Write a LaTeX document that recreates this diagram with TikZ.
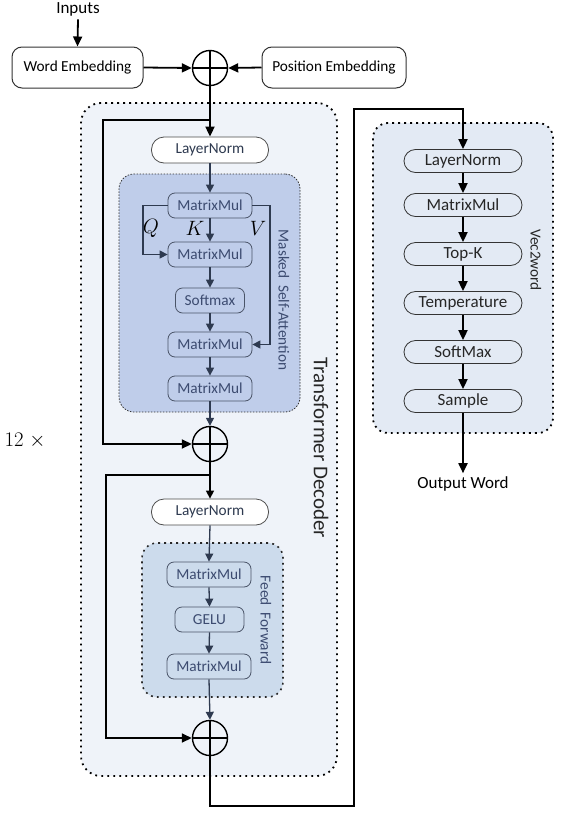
\documentclass[tikz,border=0pt]{standalone}
\usepackage{fontspec}
\setmainfont{Carlito}
\usetikzlibrary{arrows.meta}
\definecolor{decbg}{HTML}{EFF3F9}
\definecolor{attbg}{HTML}{BFCDEA}
\definecolor{ffbg}{HTML}{CCDBEC}
\definecolor{vecbg}{HTML}{E3EAF4}
\definecolor{slate}{HTML}{2E3A50}
\definecolor{boxline}{HTML}{4A5468}
\definecolor{intext}{HTML}{3C4B70}
\tikzset{
  fs/.style={font=\fontsize{15.3}{18}\selectfont},
  fl/.style={font=\fontsize{17}{20}\selectfont},
  fm/.style={font=\fontsize{21}{24}\selectfont},
  bigarr/.style={line width=1.8pt,-{Triangle[length=10pt,width=9pt]}},
  smallarr/.style={line width=1.3pt,draw=slate,-{Triangle[length=8pt,width=8pt]}},
  embbox/.style={draw=black!80,line width=1pt,rounded corners=10pt,minimum width=131pt,minimum height=41pt,inner sep=0pt,fs},
  lnbox/.style={draw=black!70,line width=0.8pt,fill=white,rounded corners=12.5pt,minimum width=117pt,minimum height=26pt,inner sep=0pt,fs,text=slate},
  inbox/.style={draw=boxline,line width=0.8pt,rounded corners=7pt,minimum height=25pt,inner sep=0pt,fs,text=intext},
  vbox/.style={draw=black!80,line width=0.8pt,rounded corners=11.5pt,minimum width=118pt,minimum height=23pt,inner sep=0pt,fl,text=black!85},
  plus/.style={circle,draw=black,line width=1.4pt,minimum size=35pt,inner sep=0pt},
  dotbig/.style={draw=black,line width=1.8pt,dash pattern=on 1.8pt off 4.2pt},
  dotsmall/.style={draw=black!80,line width=0.8pt,dash pattern=on 1.5pt off 1.5pt},
}
\begin{document}
\begin{tikzpicture}[x=1pt,y=-1pt]
\useasboundingbox (0,0) rectangle (562,814);
% containers
\node[dotbig,fill=decbg,rounded corners=20pt,minimum width=256pt,minimum height=673pt,inner sep=0pt] (dec) at (209,439.5) {};
\node[dotsmall,fill=attbg,rounded corners=15pt,minimum width=181pt,minimum height=238pt,inner sep=0pt] (att) at (209.5,293) {};
\node[dotbig,draw=black!85,line width=1.6pt,fill=ffbg,rounded corners=15pt,minimum width=141pt,minimum height=154pt,inner sep=0pt] (ff) at (212.5,620) {};
\node[dotbig,fill=vecbg,rounded corners=15pt,minimum width=180pt,minimum height=310pt,inner sep=0pt] (vec) at (463,278) {};
% labels
\node[fl] (inp) at (78,9) {Inputs};
\node[embbox] (we) at (77.5,67.5) {Word Embedding};
\node[embbox,minimum width=144pt] (pe) at (334,67.5) {Position Embedding};
\node[plus] (p1) at (210,68) {};
\draw[line width=1.4pt] (p1.north) -- (p1.south) (p1.west) -- (p1.east);
\node[lnbox] (ln1) at (210,150) {LayerNorm};
\node[inbox,minimum width=84pt] (mm1) at (210,205.5) {MatrixMul};
\node[inbox,minimum width=84pt] (mm2) at (210,254.5) {MatrixMul};
\node[inbox,minimum width=69pt] (sm) at (210,300.5) {Softmax};
\node[inbox,minimum width=84pt] (mm3) at (210,344.5) {MatrixMul};
\node[inbox,minimum width=84pt] (mm4) at (210,388.5) {MatrixMul};
\node[fm] (ql) at (151,228) {$Q$};
\node[fm] (kl) at (195,228) {$K$};
\node[fm] (vl) at (258,228) {$V$};
\node[fs,text=intext,rotate=-90] (attl) at (284,300) {Masked\ \ Self-Attention};
\node[plus] (p2) at (210,444) {};
\draw[line width=1.4pt] (p2.north) -- (p2.south) (p2.west) -- (p2.east);
\node[lnbox] (ln2) at (210,512) {LayerNorm};
\node[inbox,minimum width=84pt] (mm5) at (209,574.5) {MatrixMul};
\node[inbox,minimum width=69pt] (gelu) at (209.5,619.5) {GELU};
\node[inbox,minimum width=84pt] (mm6) at (209,666.5) {MatrixMul};
\node[fs,text=intext,rotate=-90] (ffl) at (266,620) {Feed\ \ Forward};
\node[plus] (p3) at (210,738) {};
\draw[line width=1.4pt] (p3.north) -- (p3.south) (p3.west) -- (p3.east);
\node[font=\fontsize{21}{24}\selectfont,text=black!85,rotate=-90] (decl) at (321,448) {Transformer Decoder};
\node[font=\fontsize{22}{26}\selectfont] (rep) at (25,441) {$12\;\times$};
% vec2word
\node[vbox] (vln) at (463,161) {LayerNorm};
\node[vbox] (vmm) at (463,205) {MatrixMul};
\node[vbox] (topk) at (463,254) {Top-K};
\node[vbox] (temp) at (463,303) {Temperature};
\node[vbox] (vsm) at (463,352) {SoftMax};
\node[vbox] (samp) at (463,401) {Sample};
\node[fs,text=black!85,rotate=-90] (vecl) at (536,260) {Vec2word};
\node[fl] (out) at (463,484) {Output Word};
% connectors
\draw[bigarr] (inp.south) -- (we.north);
\draw[bigarr] (we.east) -- (p1.west);
\draw[bigarr] (pe.west) -- (p1.east);
\coordinate (r1a) at (210,120);
\coordinate (r1b) at (103,120);
\draw[bigarr] (p1.south) -- (ln1.north);
\draw[bigarr] (r1a) -- (r1b) |- (p2.west);
\draw[smallarr] (ln1.south) -- (mm1.north);
\draw[smallarr] (mm1.south) -- (mm2.north);
\coordinate (qx) at (143,205.5);
\coordinate (vx) at (270,205.5);
\draw[smallarr] (mm1.west) -- (qx) |- (mm2.west);
\draw[smallarr] (mm1.east) -- (vx) |- (mm3.east);
\draw[smallarr] (mm2.south) -- (sm.north);
\draw[smallarr] (sm.south) -- (mm3.north);
\draw[smallarr] (mm3.south) -- (mm4.north);
\draw[smallarr] (mm4.south) -- (p2.north);
\coordinate (r2a) at (210,475);
\coordinate (r2b) at (106,475);
\draw[smallarr,draw=black,line width=1.5pt] (p2.south) -- (ln2.north);
\draw[bigarr,line width=1.6pt] (r2a) -- (r2b) |- (p3.west);
\draw[smallarr] (ln2.south) -- (mm5.north);
\draw[smallarr] (mm5.south) -- (gelu.north);
\draw[smallarr] (gelu.south) -- (mm6.north);
\draw[smallarr] (mm6.south) -- (p3.north);
\coordinate (o1) at (210,806);
\coordinate (o2) at (354,806);
\coordinate (o3) at (354,109);
\coordinate (o4) at (463,109);
\draw[bigarr] (p3.south) -- (o1) -- (o2) -- (o3) -- (o4) -- (vln.north);
\draw[bigarr] (vln.south) -- (vmm.north);
\draw[bigarr] (vmm.south) -- (topk.north);
\draw[bigarr] (topk.south) -- (temp.north);
\draw[bigarr] (temp.south) -- (vsm.north);
\draw[bigarr] (vsm.south) -- (samp.north);
\draw[bigarr] (samp.south) -- (out.north);
\end{tikzpicture}
\end{document}
